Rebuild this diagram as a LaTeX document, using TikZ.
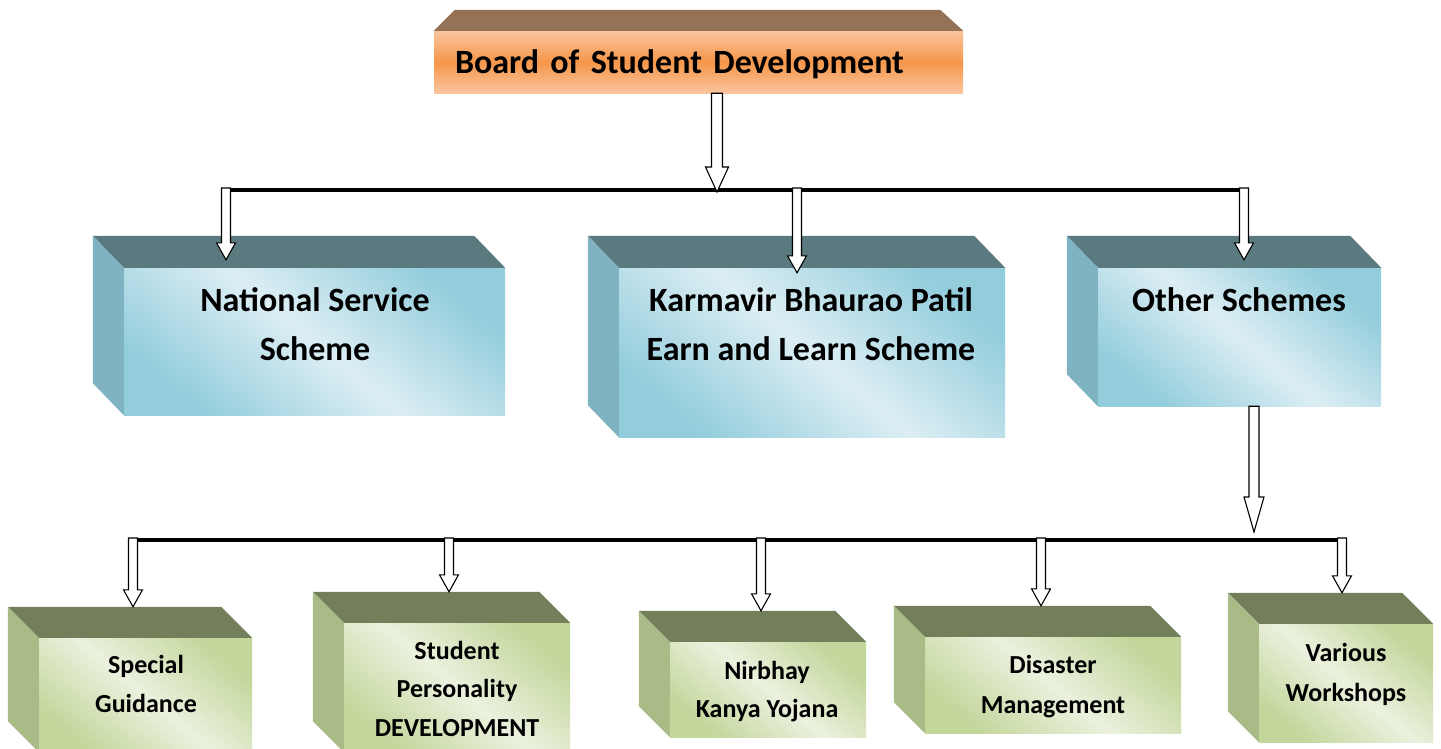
\documentclass[tikz,border=0pt]{standalone}
\usepackage{fontspec}
\setmainfont{Carlito}
\usepackage{xcolor}
\usepackage{tikz}
\usetikzlibrary{calc}

\definecolor{boardtop}{HTML}{957256}
\definecolor{orangelight}{HTML}{FAC59D}
\definecolor{orangemid}{HTML}{F6964A}
\definecolor{tealtop}{HTML}{5A7A80}
\definecolor{tealside}{HTML}{7FB3C1}
\definecolor{tealdark}{HTML}{93CDDC}
\definecolor{teallight}{HTML}{DCEEF4}
\definecolor{greentop}{HTML}{737F5A}
\definecolor{greenside}{HTML}{A9BB87}
\definecolor{greendark}{HTML}{C3D69B}
\definecolor{greenlight}{HTML}{EBF1DE}

\begin{document}
\begin{tikzpicture}[x=1pt, y=-1pt,
    boardbox/.style={rectangle, inner sep=0pt, top color=orangelight, bottom color=orangelight, middle color=orangemid},
    tealbox/.style={rectangle, inner sep=0pt, top color=tealdark, bottom color=tealdark, middle color=teallight, shading angle=-40},
    greenbox/.style={rectangle, inner sep=0pt, top color=greendark, bottom color=greendark, middle color=greenlight, shading angle=-40},
    bigtext/.style={font=\bfseries\fontsize{34}{49}\selectfont, align=center, inner sep=0pt},
    smalltext/.style={font=\bfseries\fontsize{26}{39}\selectfont, align=center, inner sep=0pt},
    bar/.style={draw, line width=4pt},
    hollow/.style={draw=black, fill=white, line width=1.1pt}]

    % Page
    \useasboundingbox (0,0) rectangle (1441,748);
    \clip (0,0) rectangle (1441,748);

    % Board
    \node [boardbox, minimum width=529pt, minimum height=62pt, text width=487pt, align=left, text depth=0pt,
        font=\bfseries\fontsize{34}{40}\selectfont] (board) at (698.5,62) {Board of Student Development};
    \fill [boardtop] (board.north west) -- ++(21,-21) -- ([shift={(-23,-21)}]board.north east) -- (board.north east) -- cycle;

    % Schemes
    \node [tealbox, minimum width=381pt, minimum height=147pt] (nss) at (314.5,341.5) {};
    \node [tealbox, minimum width=386pt, minimum height=169pt] (kbp) at (812,352.5) {};
    \node [tealbox, minimum width=283pt, minimum height=138pt] (other) at (1239.5,337) {};
    \foreach \b in {nss,kbp,other} {
        \fill [tealtop] (\b.north west) -- ++(-31,-32) -- ([shift={(-31,-32)}]\b.north east) -- (\b.north east) -- cycle;
        \fill [tealside] (\b.north west) -- ++(-31,-32) -- ([shift={(-31,-32)}]\b.south west) -- (\b.south west) -- cycle;
    }
    \node [bigtext] (nsstext) at (315,324.5) {National Service\\Scheme};
    \node [bigtext] (kbptext) at (811,324.5) {Karmavir Bhaurao Patil\\Earn and Learn Scheme};
    \node [bigtext] (othertext) at (1239,300) {Other Schemes};

    % Other schemes
    \node [greenbox, minimum width=213pt, minimum height=114pt] (sg) at (145.5,695) {};
    \node [greenbox, minimum width=226pt, minimum height=129pt] (spd) at (457,687.5) {};
    \node [greenbox, minimum width=196pt, minimum height=95pt] (nky) at (768,689.5) {};
    \node [greenbox, minimum width=256pt, minimum height=96pt] (dm) at (1053,685) {};
    \node [greenbox, minimum width=174pt, minimum height=118pt] (vw) at (1346,683) {};
    \foreach \b in {sg,spd,nky,dm,vw} {
        \fill [greentop] (\b.north west) -- ++(-31,-31) -- ([shift={(-31,-31)}]\b.north east) -- (\b.north east) -- cycle;
        \fill [greenside] (\b.north west) -- ++(-31,-31) -- ([shift={(-31,-31)}]\b.south west) -- (\b.south west) -- cycle;
    }
    \node [smalltext] (sgtext) at (146,684) {Special\\Guidance};
    \node [smalltext, font=\bfseries\fontsize{26}{38.5}\selectfont] (spdtext) at (457,688.5) {Student\\Personality\\DEVELOPMENT};
    \node [smalltext, font=\bfseries\fontsize{26}{38}\selectfont] (nkytext) at (767,692) {Nirbhay\\Kanya Yojana};
    \node [smalltext, font=\bfseries\fontsize{26}{40}\selectfont] (dmtext) at (1053,687) {Disaster\\Management};
    \node [smalltext, font=\bfseries\fontsize{26}{40}\selectfont] (vwtext) at (1346,674) {Various\\Workshops};

    % Bars
    \coordinate (bar1w) at (226,190);
    \coordinate (bar1k) at (797,190);
    \coordinate (bar1e) at (1244,190);
    \coordinate (bar1m) at (717,192);
    \draw [bar] (bar1w) -- (bar1e);
    \coordinate (bar2o) at (1254,532);
    \foreach \b/\x in {sg/133, spd/449, nky/761, dm/1041, vw/1342}
        \coordinate (bar2\b) at (\x,540);
    \draw [bar] (bar2sg) -- (bar2vw);

    % Arrows
    \filldraw [hollow] let \p1=(board.south -| bar1m), \p2=(bar1m) in
        (\x1-5.5pt,\y1) -- (\x1-5.5pt,\y2+25pt) -- (\x1-11.5pt,\y2+25pt) -- (\x1,\y2)
        -- (\x1+11.5pt,\y2+25pt) -- (\x1+5.5pt,\y2+25pt) -- (\x1+5.5pt,\y1) -- cycle;
    \foreach \a/\b/\d in {bar1w/nss/8, bar1k/kbp/-5, bar1e/other/8}
        \filldraw [hollow] let \p1=([yshift=2pt]\a), \p2=([yshift=\d pt]\b.north) in
            (\x1-4.5pt,\y1) -- (\x1-4.5pt,\y2+17pt) -- (\x1-9.5pt,\y2+17pt) -- (\x1,\y2)
            -- (\x1+9.5pt,\y2+17pt) -- (\x1+4.5pt,\y2+17pt) -- (\x1+4.5pt,\y1) -- cycle;
    \filldraw [hollow] let \p1=(other.south -| bar2o), \p2=(bar2o) in
        (\x1-5pt,\y1) -- (\x1-5pt,\y2+35pt) -- (\x1-10pt,\y2+35pt) -- (\x1,\y2)
        -- (\x1+10pt,\y2+35pt) -- (\x1+5pt,\y2+35pt) -- (\x1+5pt,\y1) -- cycle;
    \foreach \b in {sg,spd,nky,dm,vw}
        \filldraw [hollow] let \p1=([yshift=2pt]bar2\b), \p2=([yshift=31pt]\b.north) in
            (\x1-4.5pt,\y1) -- (\x1-4.5pt,\y2+17pt) -- (\x1-9.5pt,\y2+17pt) -- (\x1,\y2)
            -- (\x1+9.5pt,\y2+17pt) -- (\x1+4.5pt,\y2+17pt) -- (\x1+4.5pt,\y1) -- cycle;

\end{tikzpicture}
\end{document}
